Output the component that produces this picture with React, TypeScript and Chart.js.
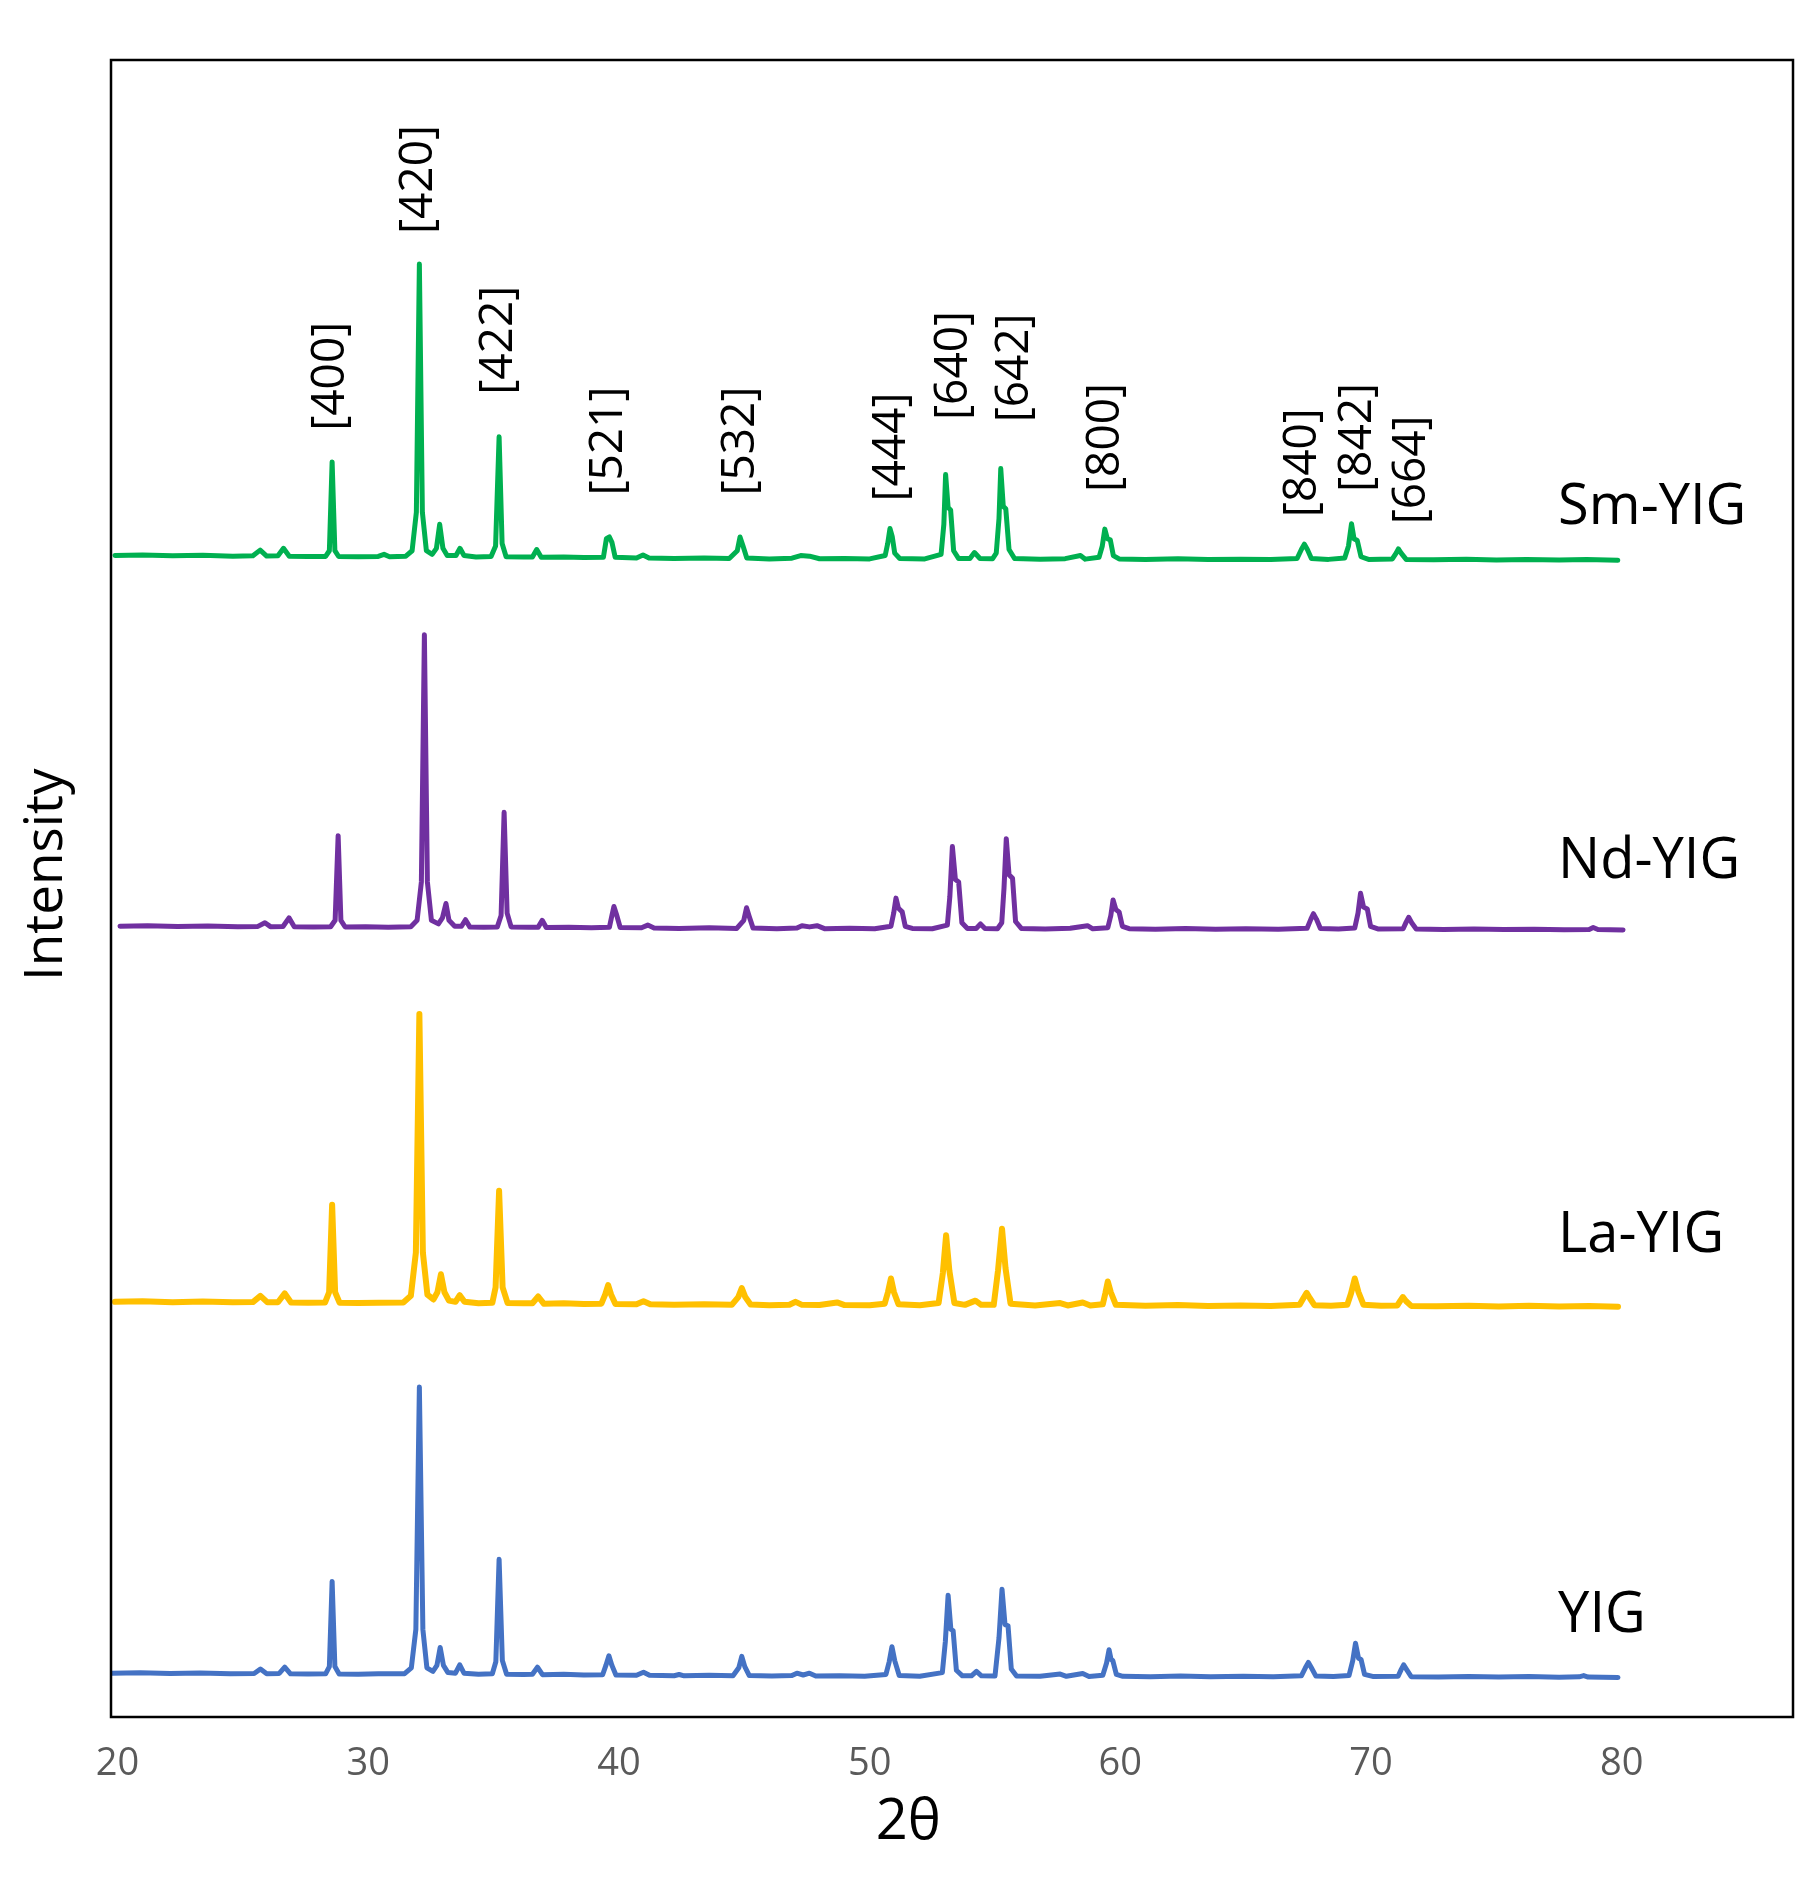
import React, { useEffect, useRef } from "react";
import Chart from "chart.js/auto";

// XRD patterns, 2θ (deg) vs intensity (a.u., own baseline of each pattern)
const SERIES_NAMES = ["Sm-YIG", "Nd-YIG", "La-YIG", "YIG"];

const SM_YIG: [number, number][] = [
  [19.9, 4], [21.0, 4.5], [22.2, 3.8], [23.4, 4.3], [24.6, 3.5], [25.4, 3.8], [25.69, 8.5], [25.95, 3.6],
  [26.4, 3.8], [26.62, 10], [26.85, 3.5], [27.6, 3.2], [28.3, 3.3], [28.45, 8], [28.56, 82], [28.67, 8],
  [28.82, 3.2], [29.6, 3], [30.4, 3.3], [30.63, 5], [30.85, 3], [31.5, 3.5], [31.75, 8], [31.92, 40],
  [32.04, 247], [32.16, 40], [32.32, 8], [32.55, 5], [32.72, 10], [32.85, 30], [32.98, 10], [33.15, 4],
  [33.5, 4], [33.66, 10], [33.82, 4], [34.3, 2.8], [34.9, 3.2], [35.08, 12], [35.22, 103], [35.34, 14],
  [35.5, 3], [36.2, 2.8], [36.55, 2.8], [36.72, 9], [36.9, 2.5], [37.8, 2.8], [38.6, 2.3], [39.38, 2.5],
  [39.5, 18], [39.62, 19.5], [39.72, 15], [39.85, 2.5], [40.7, 2], [40.96, 4.5], [41.2, 2], [42.2, 1.5],
  [43.4, 2], [44.4, 1.5], [44.72, 8], [44.83, 19.5], [44.95, 12], [45.1, 2], [46.0, 1.2], [46.9, 1.8],
  [47.25, 4], [47.6, 3.5], [48.0, 1.3], [49.0, 1.5], [50.0, 1.2], [50.62, 4], [50.72, 14], [50.81, 26.5],
  [50.9, 20], [51.0, 6], [51.2, 1.5], [52.2, 1.2], [52.85, 5], [52.96, 30], [53.03, 71.5], [53.13, 44],
  [53.23, 42], [53.35, 8], [53.55, 1.5], [54.0, 1.5], [54.18, 6.5], [54.4, 1.5], [54.9, 1.3], [55.05, 6],
  [55.16, 35], [55.23, 76.5], [55.33, 45], [55.43, 43], [55.56, 9], [55.78, 1.5], [56.8, 1], [57.8, 1.4],
  [58.41, 4], [58.6, 1], [59.15, 2.5], [59.28, 12], [59.38, 26], [59.48, 18], [59.6, 17], [59.72, 4],
  [59.95, 1.2], [61.0, 0.8], [62.3, 1.3], [63.5, 0.6], [64.8, 1], [66.0, 0.6], [67.05, 1.5], [67.22, 9],
  [67.34, 13.5], [67.46, 9], [67.62, 1.5], [68.3, 0.8], [68.95, 2], [69.1, 12], [69.22, 30.5], [69.32, 18],
  [69.45, 16.5], [69.6, 3], [69.9, 0.8], [70.85, 1.2], [71.0, 6], [71.09, 9.5], [71.2, 6], [71.4, 0.8],
  [72.5, 0.5], [73.8, 0.9], [75.0, 0.3], [76.2, 0.7], [77.5, 0.2], [78.6, 0.6], [79.84, 0],
];

const ND_YIG: [number, number][] = [
  [20.1, 3], [21.2, 3.4], [22.4, 2.8], [23.6, 3.2], [24.8, 2.6], [25.6, 2.9], [25.88, 6], [26.1, 2.7],
  [26.6, 2.8], [26.84, 10], [27.05, 2.6], [27.8, 2.5], [28.5, 2.6], [28.68, 8], [28.8, 78.5], [28.91, 8],
  [29.08, 2.4], [29.9, 2.6], [30.8, 2.2], [31.7, 2.7], [31.95, 8], [32.12, 40], [32.24, 246], [32.36, 40],
  [32.52, 8], [32.8, 5], [32.96, 10], [33.1, 22], [33.22, 8], [33.45, 3], [33.72, 3], [33.88, 8.5],
  [34.05, 2.5], [34.6, 2.3], [35.15, 2.5], [35.3, 12], [35.42, 98], [35.54, 14], [35.7, 2.5], [36.4, 2.2],
  [36.78, 2.3], [36.94, 8], [37.1, 2], [38.0, 2.3], [38.9, 1.8], [39.62, 2.2], [39.72, 12], [39.8, 19.5],
  [39.9, 13], [40.05, 2], [40.9, 1.8], [41.15, 4], [41.4, 1.6], [42.4, 1.2], [43.6, 1.7], [44.7, 1.2],
  [44.98, 8], [45.09, 18.5], [45.2, 11], [45.35, 1.5], [46.3, 1], [47.1, 1.5], [47.3, 3.5], [47.6, 2.5],
  [47.9, 3.5], [48.2, 1], [49.2, 1.4], [50.2, 0.9], [50.85, 3], [50.96, 14], [51.05, 26.5], [51.15, 18],
  [51.3, 15], [51.42, 3], [51.7, 1.2], [52.5, 1], [53.1, 4], [53.2, 28], [53.3, 69.5], [53.42, 42],
  [53.55, 40], [53.68, 6], [53.9, 1.2], [54.25, 1.2], [54.42, 5], [54.6, 1.2], [55.1, 1], [55.27, 6],
  [55.36, 35], [55.45, 76], [55.56, 46], [55.7, 43], [55.82, 7], [56.05, 1.2], [57.0, 0.8], [58.0, 1.3],
  [58.69, 3.5], [58.9, 0.9], [59.5, 1.8], [59.62, 12], [59.71, 25], [59.82, 17], [59.95, 15], [60.08, 3],
  [60.35, 1], [61.4, 0.6], [62.6, 1.1], [63.8, 0.5], [65.0, 0.9], [66.3, 0.5], [67.45, 1.4], [67.6, 9],
  [67.7, 13.5], [67.82, 9], [67.98, 1.2], [68.7, 0.7], [69.35, 1.6], [69.48, 14], [69.58, 30.5], [69.7, 19],
  [69.85, 17.5], [69.98, 3], [70.3, 0.7], [71.28, 1], [71.4, 6.5], [71.5, 10.5], [71.62, 6], [71.8, 0.8],
  [72.9, 0.4], [74.1, 0.8], [75.3, 0.3], [76.5, 0.6], [77.7, 0.2], [78.7, 0.4], [78.86, 2], [79.05, 0.3],
  [80.05, 0],
];

const LA_YIG: [number, number][] = [
  [19.9, 4], [21.0, 4.4], [22.2, 3.7], [23.4, 4.2], [24.6, 3.6], [25.4, 3.8], [25.7, 9], [25.98, 3.6],
  [26.4, 3.7], [26.67, 11], [26.92, 3.4], [27.6, 3.2], [28.28, 3.5], [28.44, 12], [28.56, 85], [28.68, 12],
  [28.86, 3.2], [29.6, 3], [30.4, 3.2], [31.4, 3.4], [31.7, 9], [31.9, 45], [32.04, 244], [32.18, 45],
  [32.36, 10], [32.6, 6], [32.76, 12], [32.9, 27], [33.04, 12], [33.22, 5], [33.48, 4], [33.65, 9.5],
  [33.84, 4], [34.4, 2.8], [34.95, 3.2], [35.08, 16], [35.22, 96.5], [35.36, 16], [35.56, 3], [36.2, 2.8],
  [36.55, 2.8], [36.78, 8.5], [37.0, 2.5], [37.8, 2.8], [38.6, 2.3], [39.3, 2.5], [39.45, 10], [39.57, 18],
  [39.69, 10], [39.86, 2.2], [40.7, 2], [40.98, 4.5], [41.25, 2], [42.2, 1.5], [43.4, 2], [44.5, 1.5],
  [44.76, 8], [44.9, 15.5], [45.04, 8], [45.25, 1.8], [46.0, 1.2], [46.8, 1.6], [47.05, 4], [47.3, 1.5],
  [48.0, 1.3], [48.7, 3.5], [49.0, 1.3], [50.0, 1.2], [50.6, 2.5], [50.73, 12], [50.85, 23.5], [50.97, 12],
  [51.15, 2], [52.0, 1.2], [52.75, 3], [52.92, 28], [53.05, 59.5], [53.18, 30], [53.38, 3], [53.8, 1.5],
  [54.22, 5], [54.45, 1.5], [54.95, 1.5], [55.12, 30], [55.28, 65], [55.42, 32], [55.62, 2.5], [56.6, 1],
  [57.6, 3], [57.9, 1], [58.5, 3.5], [58.8, 1], [59.3, 2], [59.4, 11], [59.5, 21], [59.62, 12],
  [59.82, 1.5], [61.0, 0.8], [62.3, 1.3], [63.5, 0.6], [64.8, 1], [66.0, 0.6], [67.15, 1.5], [67.3, 7],
  [67.43, 11.5], [67.56, 7], [67.74, 1.2], [68.4, 0.8], [69.05, 1.5], [69.2, 11], [69.35, 23.5], [69.5, 12],
  [69.7, 1.5], [70.4, 0.8], [71.05, 1], [71.17, 5], [71.27, 8], [71.4, 4.5], [71.6, 0.6], [72.6, 0.4],
  [73.9, 0.8], [75.1, 0.2], [76.3, 0.7], [77.5, 0.2], [78.7, 0.6], [79.85, 0],
];

const YIG: [number, number][] = [
  [19.78, 3.5], [20.9, 3.9], [22.1, 3.2], [23.3, 3.7], [24.5, 3.1], [25.45, 3.3], [25.7, 7], [25.95, 3.1],
  [26.45, 3.3], [26.67, 8.5], [26.9, 3], [27.6, 2.9], [28.3, 3], [28.45, 9], [28.56, 80], [28.67, 9],
  [28.84, 2.8], [29.6, 2.7], [30.4, 3], [31.45, 3.1], [31.72, 8], [31.9, 40], [32.04, 242], [32.18, 40],
  [32.34, 8], [32.58, 5], [32.74, 10], [32.87, 25], [33.0, 10], [33.18, 4], [33.48, 3.5], [33.65, 10.5],
  [33.82, 3.5], [34.4, 2.6], [34.95, 3], [35.09, 13], [35.22, 98.5], [35.35, 14], [35.52, 2.6], [36.2, 2.5],
  [36.55, 2.6], [36.75, 8.5], [36.95, 2.3], [37.8, 2.6], [38.6, 2.1], [39.35, 2.2], [39.48, 10], [39.6, 18],
  [39.72, 10], [39.88, 2], [40.7, 1.8], [40.98, 4.3], [41.22, 1.8], [42.2, 1.4], [42.4, 2.4], [42.6, 1.3],
  [43.6, 1.8], [44.55, 1.4], [44.78, 8], [44.9, 17.5], [45.02, 9], [45.2, 1.5], [46.1, 1.1], [46.9, 1.5],
  [47.1, 3.5], [47.35, 2], [47.6, 3.5], [47.85, 1.2], [48.8, 1.4], [49.8, 1], [50.65, 2.5], [50.78, 13],
  [50.89, 25.5], [51.0, 14], [51.18, 1.6], [52.0, 1], [52.9, 4], [53.02, 30], [53.13, 68.5], [53.24, 40],
  [53.33, 39], [53.46, 6], [53.7, 1.3], [54.06, 1.3], [54.26, 5], [54.46, 1.3], [55.0, 1.2], [55.16, 33],
  [55.28, 73.5], [55.4, 44], [55.52, 43], [55.65, 7], [55.86, 1.2], [56.8, 0.9], [57.6, 2.8], [57.85, 0.9],
  [58.5, 3.3], [58.75, 0.8], [59.3, 1.8], [59.45, 12], [59.55, 23], [59.63, 15], [59.7, 14], [59.84, 2.5],
  [60.1, 0.9], [61.2, 0.6], [62.4, 1.1], [63.6, 0.5], [64.9, 0.9], [66.1, 0.5], [67.22, 1.3], [67.38, 8],
  [67.5, 12.5], [67.62, 8], [67.8, 1.1], [68.5, 0.7], [69.12, 1.5], [69.27, 14], [69.38, 28.5], [69.5, 16],
  [69.6, 15], [69.74, 2.5], [70.1, 0.7], [71.08, 1], [71.2, 6.5], [71.3, 10.5], [71.42, 6.5], [71.6, 0.6],
  [72.7, 0.4], [73.9, 0.8], [75.1, 0.3], [76.3, 0.7], [77.5, 0.2], [78.3, 0.5], [78.48, 1.5], [78.66, 0.3],
  [79.85, 0],
];

// vertical stacking of the patterns (a.u.)
const STACK_OFFSET = [964, 656, 342, 33];

// Miller indices marked above the Sm-YIG pattern
const PEAK_LABELS = ["[400]", "[420]", "[422]", "[521]", "[532]", "[444]", "[640]", "[642]", "[800]", "[840]", "[842]", "[664]"];
const PEAK_LABEL_X = [28.5, 32.0, 35.2, 39.57, 44.83, 50.86, 53.33, 55.77, 59.38, 67.25, 69.43, 71.6];
const PEAK_LABEL_Y = [1072, 1236, 1102, 1018, 1018, 1013, 1081, 1079, 1021, 1000, 1021, 994];

const NAME_X = 77.46;
const NAME_Y = [1011, 716, 404, 87.5];

const X_TICKS = [20, 30, 40, 50, 60, 70, 80];

const COLORS = ["#00b050", "#7030a0", "#ffc000", "#4472c4"];
const FONT = "'Open Sans', sans-serif";

const labelsPlugin = {
  id: "xrdLabels",
  afterDatasetsDraw(chart: any) {
    const { ctx, chartArea, scales } = chart;
    const x = scales.x;
    const y = scales.y;
    ctx.save();
    ctx.fillStyle = "#000";
    ctx.textAlign = "left";
    ctx.textBaseline = "alphabetic";
    ctx.font = `46px ${FONT}`;
    PEAK_LABELS.forEach((t, i) => {
      ctx.save();
      ctx.translate(x.getPixelForValue(PEAK_LABEL_X[i]), y.getPixelForValue(PEAK_LABEL_Y[i]));
      ctx.rotate(-Math.PI / 2);
      ctx.fillText(t, 0, 0.3 * 46);
      ctx.restore();
    });
    ctx.font = `56px ${FONT}`;
    SERIES_NAMES.forEach((n, i) => {
      ctx.fillText(n, x.getPixelForValue(NAME_X), y.getPixelForValue(NAME_Y[i]) + 0.357 * 56);
    });
    // plot frame
    ctx.strokeStyle = "#000";
    ctx.lineWidth = 2.5;
    ctx.strokeRect(chartArea.left, chartArea.top, chartArea.right - chartArea.left, chartArea.bottom - chartArea.top);
    ctx.restore();
  },
};

const App = () => {
  const canvasRef = useRef<HTMLCanvasElement>(null);

  useEffect(() => {
    const patterns = [SM_YIG, ND_YIG, LA_YIG, YIG];
    Chart.defaults.font.family = FONT;

    const chart = new Chart(canvasRef.current as HTMLCanvasElement, {
      type: "line",
      data: {
        datasets: patterns.map((p, i) => ({
          label: SERIES_NAMES[i],
          data: p.map(([t, v]) => ({ x: t, y: v + STACK_OFFSET[i] })),
          borderColor: COLORS[i],
          borderWidth: i === 2 ? 6 : 5,
          borderJoinStyle: "round" as const,
          borderCapStyle: "round" as const,
          pointRadius: 0,
          tension: 0,
          fill: false,
        })),
      },
      options: {
        animation: false,
        responsive: true,
        maintainAspectRatio: false,
        layout: { padding: { top: 60, right: 27, bottom: 0, left: 0 } },
        plugins: { legend: { display: false }, tooltip: { enabled: false } },
        scales: {
          x: {
            type: "linear",
            min: 19.74,
            max: 86.83,
            afterBuildTicks: (axis: any) => {
              axis.ticks = X_TICKS.map((v) => ({ value: v }));
            },
            afterFit: (axis: any) => {
              axis.height = 162;
            },
            grid: { display: false, drawTicks: false },
            border: { display: false },
            ticks: {
              padding: 24,
              maxRotation: 0,
              autoSkip: false,
              color: "#5a5a5a",
              font: { family: FONT, size: 38 },
              callback: (v: any) => String(v),
            },
            title: {
              display: true,
              text: "2θ      ",
              color: "#000",
              font: { family: FONT, size: 56 },
              padding: { top: 3, bottom: 22 },
            },
          },
          y: {
            type: "linear",
            min: 0,
            max: 1381,
            afterFit: (axis: any) => {
              axis.width = 111;
            },
            grid: { display: false, drawTicks: false },
            border: { display: false },
            ticks: { display: false },
            title: {
              display: true,
              text: "  Intensity",
              color: "#000",
              font: { family: FONT, size: 53 },
              padding: { top: 15, bottom: 32 },
            },
          },
        },
      },
      plugins: [labelsPlugin],
    } as any);

    return () => chart.destroy();
  }, []);

  return (
    <div style={{ position: "absolute", left: 0, top: 0, width: 1820, height: 1879, background: "#fff" }}>
      <canvas ref={canvasRef} />
    </div>
  );
};

export default App;
